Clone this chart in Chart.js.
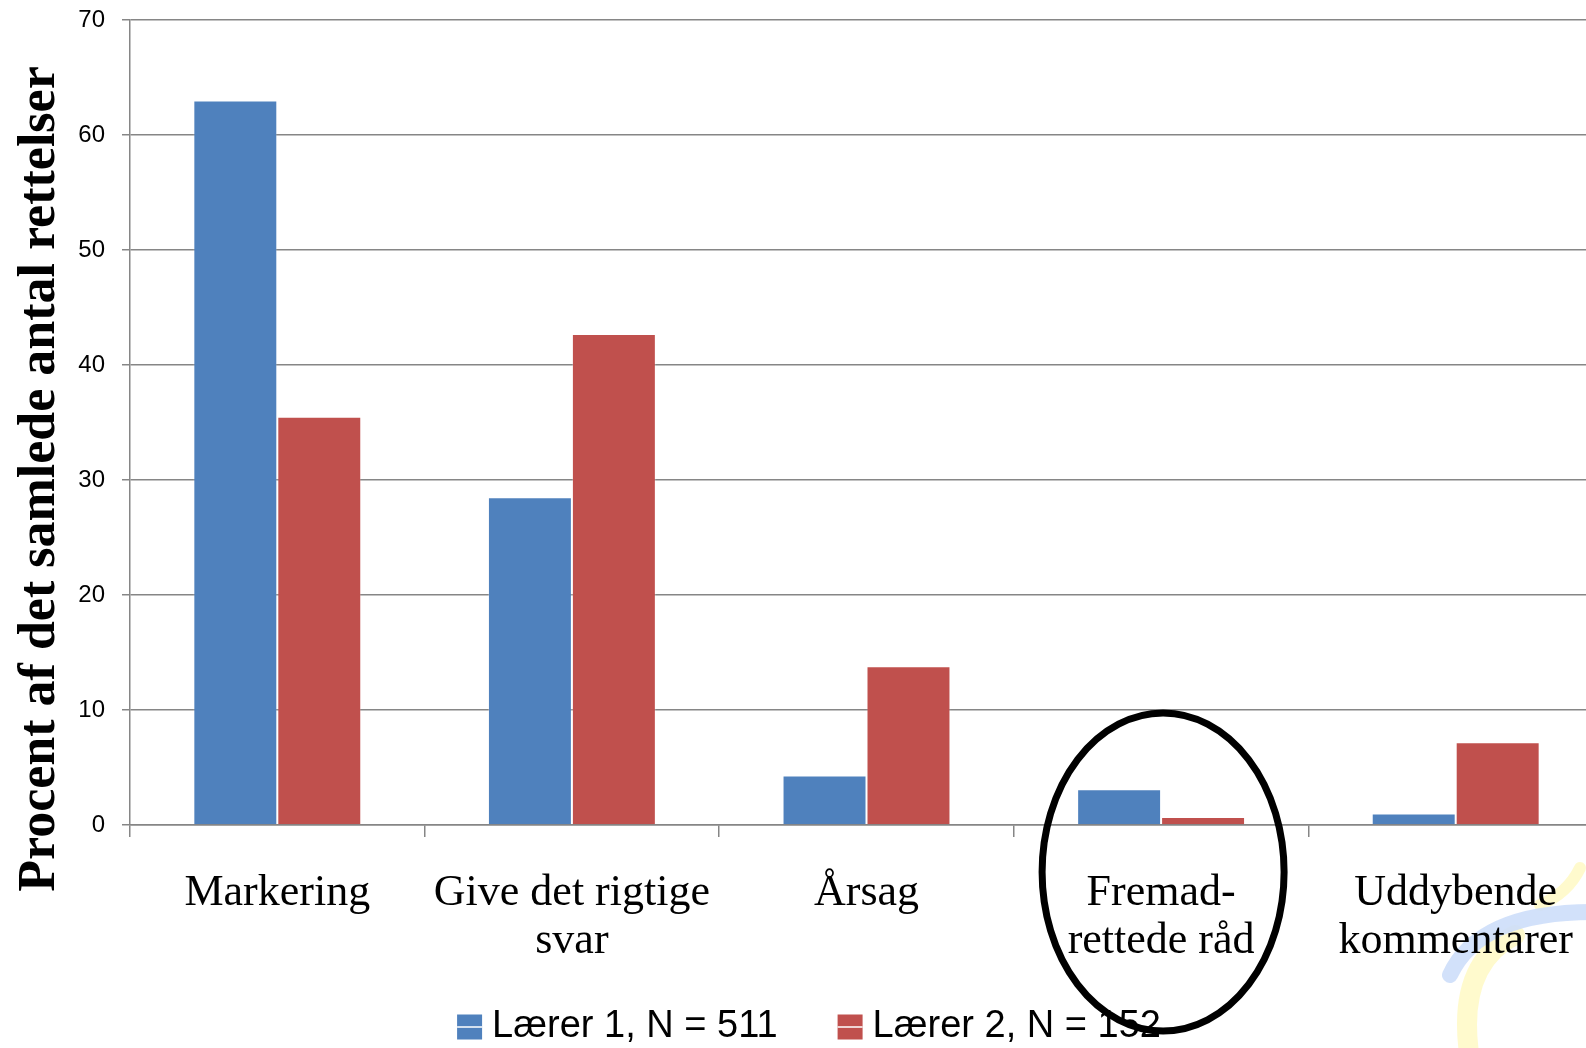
<!DOCTYPE html>
<html>
<head>
<meta charset="utf-8">
<script src="https://cdn.jsdelivr.net/npm/chart.js@4.4.1/dist/chart.umd.min.js"></script>
<style>
  html, body { margin: 0; padding: 0; background: #fff; overflow: hidden; }
  #wrap { width: 1603px; height: 1048px; position: relative; }
</style>
</head>
<body>
<div id="wrap"><canvas id="feedbackChart"></canvas></div>
<script>
// kategorier og værdier (procent)
const categories = [
    'Markering',
    ['Give det rigtige', 'svar'],
    'Årsag',
    ['Fremad-', 'rettede råd'],
    ['Uddybende', 'kommentarer']
];
const teacher1 = [63.0, 28.5, 4.3, 3.1, 1.0];
const teacher2 = [35.5, 42.7, 13.8, 0.7, 7.2];
const seriesNames = ['Lærer 1, N = 511', 'Lærer 2, N = 152'];
const yTicks = [0, 10, 20, 30, 40, 50, 60, 70];
const yTitle = 'Procent af det samlede antal rettelser';
const circledIndex = 3;

const blue = '#4F81BD';
const red = '#C0504D';
const axisGrey = '#868686';

// logo i baggrunden nederst til højre
const logoPlugin = {
    id: 'logo',
    beforeDraw(chart) {
        const ctx = chart.ctx;
        ctx.save();
        ctx.lineCap = 'round';
        ctx.strokeStyle = 'rgba(255, 250, 200, 0.9)';
        ctx.lineWidth = 20;
        ctx.beginPath();
        ctx.moveTo(1470, 1060);
        ctx.quadraticCurveTo(1455, 965, 1515, 935);
        ctx.stroke();
        ctx.lineWidth = 12;
        ctx.beginPath();
        ctx.moveTo(1540, 905);
        ctx.quadraticCurveTo(1568, 893, 1580, 868);
        ctx.stroke();
        ctx.strokeStyle = 'rgba(205, 222, 250, 0.9)';
        ctx.lineWidth = 16;
        ctx.beginPath();
        ctx.moveTo(1450, 975);
        ctx.quadraticCurveTo(1480, 910, 1600, 912);
        ctx.stroke();
        ctx.restore();
    }
};

// y-akse titel, legende og ring om "Fremad-rettede råd"
const extrasPlugin = {
    id: 'extras',
    afterDraw(chart) {
        const ctx = chart.ctx;
        ctx.save();
        ctx.translate(41, 479);
        ctx.rotate(-Math.PI / 2);
        ctx.font = 'bold 52px "Liberation Serif"';
        ctx.fillStyle = '#000';
        ctx.textAlign = 'center';
        ctx.textBaseline = 'middle';
        ctx.fillText(yTitle, 0, 0);
        ctx.restore();

        // legende
        ctx.save();
        ctx.font = '38px "Liberation Sans"';
        ctx.textBaseline = 'middle';
        const colors = chart.data.datasets.map(d => d.backgroundColor);
        const widths = chart.data.datasets.map(d => ctx.measureText(d.label).width);
        const box = 25, gapText = 10, gapItem = 60;
        const total = widths.reduce((s, w) => s + box + gapText + w, 0) + gapItem;
        let lx = 809 - total / 2;
        const ly = 1027;
        chart.data.datasets.forEach((d, i) => {
            ctx.fillStyle = colors[i];
            ctx.fillRect(lx, ly - box / 2, box, box);
            ctx.fillStyle = '#fff';
            ctx.fillRect(lx, ly - 0.75, box, 1.5);
            ctx.fillStyle = '#000';
            ctx.fillText(d.label, lx + box + gapText, ly);
            lx += box + gapText + widths[i] + gapItem;
        });
        ctx.restore();

        const x = chart.scales.x.getPixelForValue(circledIndex);
        ctx.save();
        ctx.strokeStyle = '#000';
        ctx.lineWidth = 7;
        ctx.beginPath();
        ctx.ellipse(x + 2, 872, 121, 159, 0, 0, Math.PI * 2);
        ctx.stroke();
        ctx.restore();
    }
};

const ctx = document.getElementById('feedbackChart').getContext('2d');
new Chart(ctx, {
    type: 'bar',
    data: {
        labels: categories,
        datasets: [{
            label: seriesNames[0],
            data: teacher1,
            backgroundColor: blue,
            borderColor: 'rgba(255,255,255,0.25)',
            borderWidth: 1
        }, {
            label: seriesNames[1],
            data: teacher2,
            backgroundColor: red,
            borderColor: 'rgba(255,255,255,0.25)',
            borderWidth: 1
        }]
    },
    options: {
        responsive: true,
        maintainAspectRatio: false,
        animation: false,
        layout: { padding: { top: 20, right: 0, left: 0, bottom: 0 } },
        datasets: {
            bar: { categoryPercentage: 0.57, barPercentage: 1.0 }
        },
        plugins: {
            legend: { display: false },
            tooltip: { enabled: false }
        },
        scales: {
            x: {
                offset: true,
                grid: {
                    offset: true,
                    drawOnChartArea: false,
                    drawTicks: true,
                    tickLength: 12,
                    color: axisGrey,
                    lineWidth: 1.5
                },
                border: { color: axisGrey, width: 1.5 },
                ticks: {
                    color: '#000',
                    padding: 32,
                    maxRotation: 0,
                    autoSkip: false,
                    font: { family: '"Liberation Serif"', size: 44, lineHeight: 1.1 }
                },
                afterFit(scale) {
                    scale.height = 223;
                    scale.paddingLeft = 0;
                    scale.paddingRight = 0;
                }
            },
            y: {
                min: 0,
                max: 70,
                afterBuildTicks(scale) { scale.ticks = yTicks.map(v => ({ value: v })); },
                grid: {
                    color: axisGrey,
                    lineWidth: 1.5,
                    tickLength: 8
                },
                border: { color: axisGrey, width: 1.5 },
                ticks: {
                    color: '#000',
                    padding: 17,
                    font: { family: '"Liberation Sans"', size: 24 }
                },
                afterFit(scale) {
                    scale.width = 130;
                    scale.paddingTop = 0;
                    scale.paddingBottom = 0;
                }
            }
        }
    },
    plugins: [logoPlugin, extrasPlugin]
});
</script>
</body>
</html>
